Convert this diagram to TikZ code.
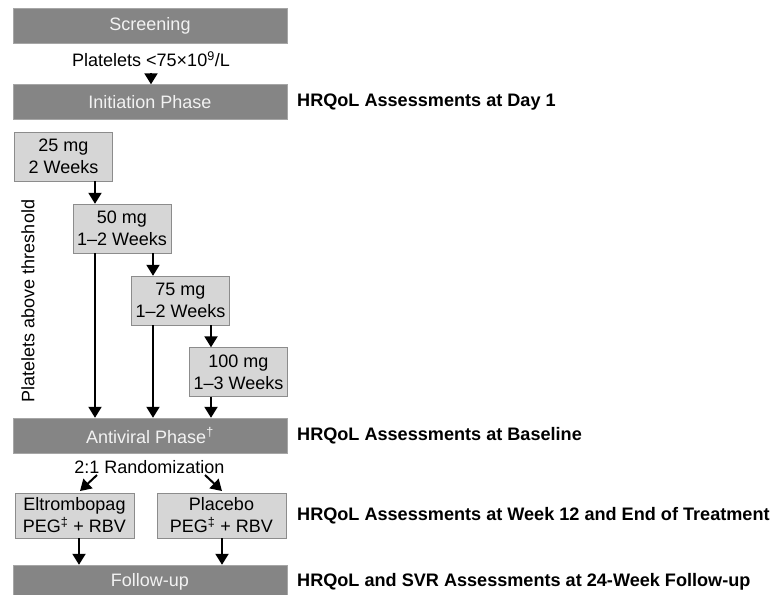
\documentclass[tikz,border=0pt]{standalone}
\usepackage{fontspec}
\setmainfont{Liberation Sans}
\usetikzlibrary{calc,arrows.meta}

\definecolor{bardark}{HTML}{858585}
\definecolor{barline}{HTML}{A6A6A6}
\definecolor{bartext}{HTML}{F2F2F2}
\definecolor{boxfill}{HTML}{D6D6D6}
\definecolor{boxline}{HTML}{8C8C8C}

\tikzset{
	phase/.style={draw=barline, fill=bardark, text=bartext, minimum width=274pt,
		minimum height=35pt, inner sep=0pt, font=\fontsize{18}{21}\selectfont},
	dose/.style={draw=boxline, fill=boxfill, minimum width=98pt, minimum height=49pt,
		inner sep=0pt, align=center, font=\fontsize{18}{22}\selectfont},
	note/.style={anchor=west, inner sep=0pt, font=\fontsize{18.1}{21}\selectfont\bfseries},
	flow/.style={->, line width=2pt},
}

\begin{document}
\begin{tikzpicture}[x=1pt, y=-1pt, >={Triangle[width=13pt,length=11pt]}]
	\useasboundingbox (0,0) rectangle (772,595);

	% phase bars on the left
	\node[phase] (screen) at (150,25.5) {Screening};
	\node[inner sep=0pt, font=\fontsize{18}{21}\selectfont] (plt) at (151,59)
		{Platelets <75×10\textsuperscript{9}/L};
	\node[phase] (init) at (150,102) {Initiation Phase};
	\draw[flow] ($(plt.south)+(0,6)$) -- (plt.south |- init.north);

	% dose steps of the initiation phase
	\node[dose] (d25) at (63.5,156.5) {25 mg\\2 Weeks};
	\node[dose] (d50) at (122,228.5) {50 mg\\1--2 Weeks};
	\node[dose] (d75) at (180.5,300.5) {75 mg\\1--2 Weeks};
	\node[dose] (d100) at (238.5,372) {100 mg\\1--3 Weeks};
	\node[rotate=90, inner sep=0pt, font=\fontsize{18}{21}\selectfont] (thr) at (28,301)
		{Platelets above threshold};

	\node[phase] (anti) at (150,435.5) {Antiviral Phase\textsuperscript{\textdagger}};

	% x of the step arrows
	\coordinate (xa) at (95,0);
	\coordinate (xb) at (153,0);
	\coordinate (xc) at (211,0);
	\draw[flow] (d25.south -| xa) -- (d50.north -| xa);
	\draw[flow] (d50.south -| xb) -- (d75.north -| xb);
	\draw[flow] (d75.south -| xc) -- (d100.north -| xc);
	\draw[flow] (d50.south -| xa) -- (anti.north -| xa);
	\draw[flow] (d75.south -| xb) -- (anti.north -| xb);
	\draw[flow] (d100.south -| xc) -- (anti.north -| xc);

	% randomization
	\node[inner sep=0pt, font=\fontsize{18}{21}\selectfont] (rand) at (149.5,467) {2:1 Randomization};
	\node[dose, minimum width=119pt, minimum height=45pt] (elt) at (74.5,515.5)
		{Eltrombopag\\PEG\textsuperscript{\textdaggerdbl} + RBV};
	\node[dose, minimum width=129pt, minimum height=45pt] (plc) at (221.5,515.5)
		{Placebo\\PEG\textsuperscript{\textdaggerdbl} + RBV};
	\coordinate (rl) at (97,475);
	\coordinate (rle) at (80,491);
	\coordinate (rr) at (205,475);
	\coordinate (rre) at (222,491);
	\draw[flow] (rl) -- (rle);
	\draw[flow] (rr) -- (rre);

	\node[phase, minimum height=34pt] (fup) at (150,582) {Follow-up};
	\coordinate (xe) at (79,0);
	\coordinate (xp) at (222,0);
	\draw[flow] (elt.south -| xe) -- (fup.north -| xe);
	\draw[flow] (plc.south -| xp) -- (fup.north -| xp);

	% assessments on the right
	\node[note] (n1) at (297,102) {HRQoL Assessments at Day 1};
	\node[note] (n2) at (297,435.5) {HRQoL Assessments at Baseline};
	\node[note] (n3) at (297,516) {HRQoL Assessments at Week 12 and End of Treatment};
	\node[note] (n4) at (297,582) {HRQoL and SVR Assessments at 24-Week Follow-up};
\end{tikzpicture}
\end{document}
